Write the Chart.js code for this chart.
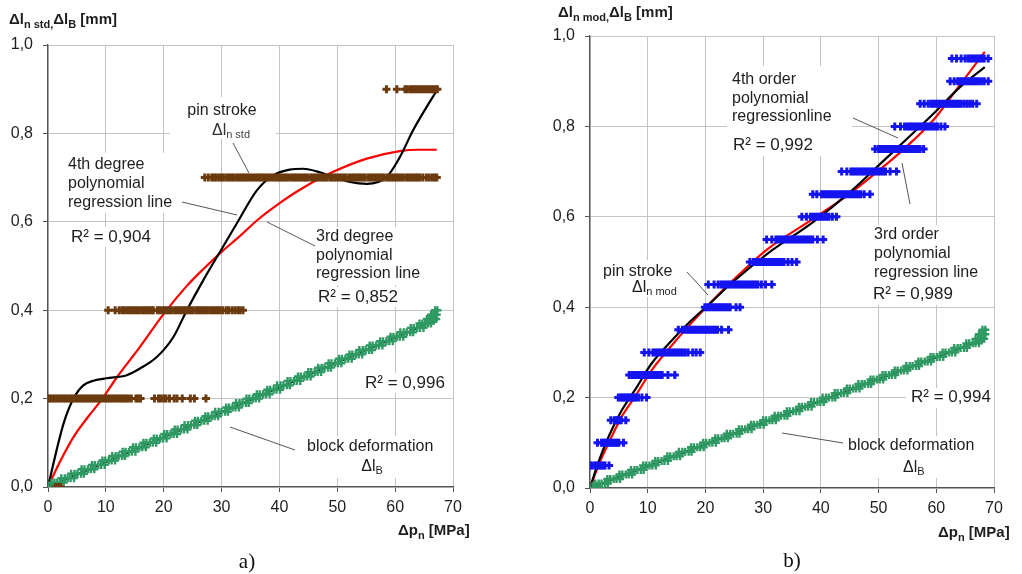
<!DOCTYPE html>
<html>
<head>
<meta charset="utf-8">
<script src="https://cdn.jsdelivr.net/npm/chart.js@4.4.0/dist/chart.umd.min.js"></script>
<style>
  body { margin: 0; background: #fff; }
  #wrap { position: relative; width: 1022px; height: 574px; overflow: hidden; }
  #chartA { position: absolute; left: 0; top: 0; }
  #chartB { position: absolute; left: 510px; top: 0; }
</style>
</head>
<body>
<div id="wrap">
  <canvas id="chartA" width="510" height="574"></canvas>
  <canvas id="chartB" width="512" height="574"></canvas>
</div>
<script>
// ---------- data ----------
// a) standard pin: measured pin stroke levels [mm] and the pressures [MPa] where they show up
const pinALevels = [0.0, 0.2, 0.4, 0.7, 0.9];
const pinAX = [
  [1.3, 1.8, 2.2],
  [0.0, 0.3, 0.7, 1.1, 1.5, 1.9, 2.3, 2.7, 3.1, 3.5, 3.9, 4.3, 4.7, 5.1, 5.5, 5.9, 6.3, 6.7, 7.1, 7.5, 7.9, 8.3, 8.7, 9.1, 9.5, 9.9, 10.3, 10.7, 11.1, 11.5, 11.9, 12.3, 12.7, 13.1, 13.5, 13.9, 14.4, 15.2, 15.6, 16.0, 18.4, 19.1, 19.5, 20.0, 20.4, 21.0, 21.8, 22.3, 23.2, 24.6, 25.3, 27.3],
  [10.4, 11.6, 12.3, 12.8, 13.2, 13.7, 14.1, 14.6, 15.0, 15.4, 15.8, 16.3, 16.7, 17.1, 17.5, 17.9, 18.2, 18.9, 19.3, 19.8, 20.2, 20.6, 21.0, 21.4, 21.9, 22.3, 22.7, 23.1, 23.5, 23.9, 24.3, 24.7, 25.1, 25.6, 26.0, 26.4, 26.8, 27.2, 27.6, 28.1, 28.5, 28.9, 29.3, 29.7, 30.2, 30.8, 31.2, 31.8, 32.3, 32.8, 33.2, 33.7],
  [27.1, 27.7, 28.3, 28.7, 29.1, 29.6, 30.0, 30.4, 30.9, 31.3, 31.7, 32.1, 32.6, 33.0, 33.4, 33.8, 34.2, 34.6, 35.0, 35.5, 35.9, 36.3, 36.7, 37.1, 37.5, 37.9, 38.3, 38.8, 39.2, 39.6, 40.0, 40.4, 40.8, 41.2, 41.6, 42.1, 42.5, 42.9, 43.3, 43.7, 44.1, 44.5, 44.9, 45.4, 45.8, 46.2, 46.6, 47.0, 47.4, 47.8, 48.2, 48.7, 49.1, 49.5, 49.9, 50.3, 50.7, 51.1, 51.5, 52.0, 52.4, 52.8, 53.2, 53.6, 54.0, 54.4, 54.8, 55.3, 55.7, 56.1, 56.5, 56.9, 57.3, 57.7, 58.1, 58.6, 59.0, 59.4, 59.8, 60.2, 60.6, 61.0, 61.4, 61.9, 62.3, 62.7, 63.1, 63.5, 63.9, 64.3, 64.8, 65.4, 65.9, 66.4, 66.8, 67.2],
  [58.5, 60.3, 61.7, 62.1, 62.6, 63.0, 63.4, 63.8, 64.2, 64.6, 65.0, 65.4, 65.8, 66.2, 66.6, 67.0, 67.3]
];

// block deformation a): levels [mm] with their pressures
const blockALevels = [0.00, 0.01, 0.02, 0.03, 0.04, 0.05, 0.06, 0.07, 0.08, 0.09, 0.10, 0.11, 0.12, 0.13, 0.14, 0.15, 0.16, 0.17, 0.18, 0.19, 0.20, 0.21, 0.22, 0.23, 0.24, 0.25, 0.26, 0.27, 0.28, 0.29, 0.30, 0.31, 0.32, 0.33, 0.34, 0.35, 0.36, 0.37, 0.38, 0.39, 0.40];
const blockAX = [
  [0.0, 0.5, 1.0, 1.5, 2.0], [0.6, 1.1, 1.6, 2.1, 2.7], [2.3, 2.9, 3.4, 3.9, 4.5], [4.0, 4.6, 5.1, 5.7, 6.2],
  [5.8, 6.3, 6.9, 7.4, 8.0], [7.6, 8.1, 8.7, 9.2, 9.8], [9.4, 9.9, 10.5, 11.0, 11.6], [11.1, 11.7, 12.2, 12.8, 13.3],
  [12.9, 13.4, 14.0, 14.5, 15.1], [14.7, 15.2, 15.8, 16.3, 16.9], [16.5, 17.0, 17.6, 18.1, 18.7], [18.3, 18.8, 19.4, 19.9, 20.5],
  [20.1, 20.6, 21.2, 21.7, 22.3], [21.9, 22.4, 23.0, 23.5, 24.1], [23.6, 24.2, 24.7, 25.3, 25.8], [25.4, 25.9, 26.5, 27.0, 27.6],
  [27.2, 27.7, 28.3, 28.8, 29.4], [28.9, 29.5, 30.0, 30.6, 31.1], [30.8, 31.3, 31.9, 32.4, 33.0], [32.5, 33.1, 33.6, 34.2, 34.7],
  [34.3, 34.8, 35.4, 35.9, 36.5], [36.1, 36.6, 37.2, 37.7, 38.3], [37.9, 38.4, 39.0, 39.5, 40.1], [39.6, 40.2, 40.7, 41.3, 41.8],
  [41.4, 41.9, 42.5, 43.0, 43.6], [43.2, 43.7, 44.3, 44.8, 45.4], [45.0, 45.5, 46.1, 46.6, 47.2], [46.7, 47.3, 47.8, 48.4, 48.9],
  [48.5, 49.0, 49.6, 50.1, 50.7], [50.3, 50.8, 51.4, 51.9, 52.5], [52.1, 52.6, 53.2, 53.7, 54.3], [53.8, 54.4, 54.9, 55.5, 56.0],
  [55.6, 56.1, 56.7, 57.2, 57.8], [57.4, 57.9, 58.5, 59.0, 59.6], [59.2, 59.7, 60.3, 60.8, 61.4], [60.9, 61.5, 62.0, 62.6, 63.1],
  [62.7, 63.2, 63.8, 64.3, 64.9], [64.2, 64.7, 65.2, 65.7, 66.2], [65.5, 65.9, 66.3, 66.7, 67.1], [66.2, 66.6, 66.9, 67.2],
  [66.9, 67.3]
];

// regression lines a)
const fit4AX = [0, 1.5, 2.7, 4.4, 6.1, 8.0, 10.1, 13.6, 15.9, 18.8, 21.7, 24.0, 26.8, 30.0, 32.8, 36.1, 38.9, 41.8, 44.1, 47.0, 49.3, 52.0, 55.1, 58.5, 60.8, 63.1, 65.4, 67.2];
const fit4AY = [0, 0.084, 0.144, 0.200, 0.230, 0.241, 0.246, 0.253, 0.268, 0.294, 0.340, 0.400, 0.467, 0.538, 0.600, 0.671, 0.705, 0.718, 0.720, 0.712, 0.701, 0.691, 0.686, 0.701, 0.746, 0.807, 0.859, 0.897];
const fit3AX = [0, 2.1, 4.4, 7.0, 9.4, 12.0, 15.9, 19.9, 24.0, 27.0, 30.0, 33.2, 36.1, 39.8, 43.6, 49.3, 55.1, 60.8, 64.0, 67.2];
const fit3AY = [0, 0.058, 0.113, 0.160, 0.200, 0.250, 0.317, 0.390, 0.455, 0.495, 0.532, 0.568, 0.603, 0.640, 0.673, 0.713, 0.743, 0.760, 0.763, 0.763];
const fitBlockAX = [0, 67.3];
const fitBlockAY = [0, 0.379];

// b) modified pin
const pinBLevels = [0.05, 0.10, 0.15, 0.20, 0.25, 0.30, 0.35, 0.40, 0.45, 0.50, 0.55, 0.60, 0.65, 0.70, 0.75, 0.80, 0.85, 0.90, 0.95];
const pinBX = [
  [0.0, 0.3, 0.8, 1.1, 1.4, 1.7, 2.0, 2.3, 2.6, 3.3],
  [1.3, 2.0, 2.3, 2.6, 2.9, 3.2, 3.5, 3.8, 4.1, 4.4, 4.7, 5.0, 5.8],
  [3.6, 4.2, 4.5, 4.8, 5.1, 5.4, 6.2],
  [4.9, 5.3, 5.6, 5.9, 6.2, 6.5, 6.8, 7.1, 7.4, 7.7, 8.0, 8.4, 9.0, 9.8],
  [6.8, 7.3, 7.7, 8.1, 8.5, 8.9, 9.3, 9.7, 10.1, 10.5, 10.9, 11.3, 11.7, 12.1, 12.5, 13.5, 14.7],
  [9.4, 10.2, 10.9, 11.3, 11.7, 12.1, 12.5, 12.9, 13.3, 13.7, 14.1, 14.5, 14.9, 15.3, 15.7, 16.1, 16.5, 17.0, 17.8, 18.4, 19.1],
  [15.3, 16.0, 16.5, 16.9, 17.3, 17.7, 18.1, 18.5, 18.9, 19.3, 19.7, 20.1, 20.5, 20.9, 21.3, 21.7, 22.1, 22.8, 24.0],
  [19.9, 20.3, 20.7, 21.1, 21.5, 21.9, 22.3, 22.7, 23.1, 23.5, 23.9, 24.3, 25.3, 26.0],
  [20.5, 21.5, 22.2, 22.7, 23.1, 23.5, 23.9, 24.3, 24.7, 25.1, 25.5, 25.9, 26.3, 26.7, 27.1, 27.5, 27.9, 28.3, 28.7, 29.1, 29.7, 30.4, 31.5],
  [27.7, 28.3, 28.8, 29.2, 29.6, 30.0, 30.4, 30.8, 31.2, 31.6, 32.0, 32.4, 32.8, 33.2, 33.6, 34.3, 35.0, 35.8],
  [30.6, 31.5, 32.2, 32.6, 33.0, 33.4, 33.8, 34.2, 34.6, 35.0, 35.4, 35.8, 36.2, 36.6, 37.0, 37.4, 37.8, 38.2, 38.6, 39.4, 40.4],
  [36.7, 37.5, 38.2, 38.6, 39.0, 39.4, 39.8, 40.2, 40.6, 41.0, 41.4, 42.0, 42.7],
  [38.6, 39.3, 40.1, 40.5, 40.9, 41.3, 41.7, 42.1, 42.5, 42.9, 43.3, 43.7, 44.1, 44.5, 44.9, 45.3, 45.7, 46.1, 46.5, 46.9, 47.5, 48.5],
  [43.6, 44.5, 45.2, 45.6, 46.0, 46.4, 46.8, 47.2, 47.6, 48.0, 48.4, 48.8, 49.2, 49.6, 50.0, 50.4, 50.8, 51.2, 52.0, 53.1],
  [49.4, 50.0, 50.4, 50.8, 51.2, 51.6, 52.0, 52.4, 52.8, 53.2, 53.6, 54.0, 54.4, 54.8, 55.2, 55.6, 56.0, 56.4, 56.8, 57.2, 57.8],
  [52.8, 53.8, 54.5, 55.0, 55.4, 55.8, 56.2, 56.6, 57.0, 57.4, 57.8, 58.2, 58.6, 59.0, 59.4, 59.8, 60.2, 60.8, 61.5],
  [57.2, 57.9, 58.6, 59.1, 59.5, 59.9, 60.3, 60.7, 61.1, 61.5, 61.9, 62.3, 62.7, 63.1, 63.5, 63.9, 64.3, 64.8, 65.3, 65.8, 66.3, 67.0],
  [62.4, 63.1, 63.7, 64.1, 64.5, 64.9, 65.3, 65.7, 66.1, 66.5, 66.9, 67.3, 67.8, 68.3, 69.0],
  [62.7, 63.5, 64.3, 65.0, 65.5, 65.9, 66.3, 66.7, 67.1, 67.5, 67.9, 68.3, 69.0]
];

const blockBLevels = [0.00, 0.01, 0.02, 0.03, 0.04, 0.05, 0.06, 0.07, 0.08, 0.09, 0.10, 0.11, 0.12, 0.13, 0.14, 0.15, 0.16, 0.17, 0.18, 0.19, 0.20, 0.21, 0.22, 0.23, 0.24, 0.25, 0.26, 0.27, 0.28, 0.29, 0.30, 0.31, 0.32, 0.33, 0.34, 0.35];
const blockBX = [
  [0.0, 0.5, 1.0, 1.5, 2.0], [0.9, 1.5, 2.0, 2.6, 3.1], [3.0, 3.5, 4.1, 4.6, 5.2], [5.1, 5.6, 6.2, 6.7, 7.3],
  [7.1, 7.7, 8.2, 8.8, 9.3], [9.2, 9.7, 10.3, 10.8, 11.4], [11.3, 11.8, 12.4, 12.9, 13.5], [13.4, 13.9, 14.5, 15.0, 15.6],
  [15.4, 16.0, 16.5, 17.1, 17.6], [17.5, 18.0, 18.6, 19.1, 19.7], [19.6, 20.1, 20.7, 21.2, 21.8], [21.7, 22.2, 22.8, 23.3, 23.9],
  [23.7, 24.3, 24.8, 25.4, 25.9], [25.8, 26.3, 26.9, 27.4, 28.0], [27.9, 28.4, 29.0, 29.5, 30.1], [30.0, 30.5, 31.1, 31.6, 32.2],
  [32.0, 32.6, 33.1, 33.7, 34.2], [34.1, 34.6, 35.2, 35.7, 36.3], [36.2, 36.7, 37.3, 37.8, 38.4], [38.3, 38.8, 39.4, 39.9, 40.5],
  [40.3, 40.9, 41.4, 42.0, 42.5], [42.4, 42.9, 43.5, 44.0, 44.6], [44.5, 45.0, 45.6, 46.1, 46.7], [46.5, 47.1, 47.6, 48.2, 48.7],
  [48.6, 49.1, 49.7, 50.2, 50.8], [50.7, 51.2, 51.8, 52.3, 52.9], [52.8, 53.3, 53.9, 54.4, 55.0], [54.8, 55.4, 55.9, 56.5, 57.0],
  [56.9, 57.4, 58.0, 58.5, 59.1], [59.0, 59.5, 60.1, 60.6, 61.2], [61.1, 61.6, 62.2, 62.7, 63.3], [63.1, 63.7, 64.2, 64.8, 65.3],
  [65.2, 65.7, 66.3, 66.8, 67.4], [66.8, 67.2, 67.6, 68.0, 68.3], [67.4, 67.8, 68.1, 68.5], [68.0, 68.5]
];

const fit4BX = [0, 1.4, 3.2, 5.5, 7.8, 10.7, 14.2, 17.0, 20.5, 24.5, 30.6, 38.7, 45.1, 49.7, 53.7, 59.5, 64.1, 68.4];
const fit4BY = [0, 0.055, 0.113, 0.172, 0.217, 0.276, 0.327, 0.364, 0.405, 0.453, 0.517, 0.589, 0.655, 0.710, 0.758, 0.828, 0.887, 0.931];
const fit3BX = [0, 1.4, 3.2, 5.5, 7.8, 10.7, 14.2, 17.0, 20.5, 24.5, 30.6, 38.7, 45.1, 49.7, 53.7, 59.5, 64.1, 68.4];
const fit3BY = [0, 0.048, 0.099, 0.158, 0.202, 0.261, 0.316, 0.357, 0.405, 0.456, 0.527, 0.596, 0.652, 0.699, 0.742, 0.814, 0.892, 0.965];
const fitBlockBX = [0, 68.3];
const fitBlockBY = [0, 0.329];

// ---------- helpers ----------
const BROWN = '#6b3a0f';
const BLUE = '#1414f0';
const GREEN = '#2f9a63';
const TXT = '#1e1e1e';
const FONT = '"Liberation Sans", Arial, sans-serif';

const levelPoints = (levels, xs) => {
    const pts = [];
    xs.forEach((row, i) => {
        row.forEach((x) => pts.push({x: x, y: levels[i]}));
    });
    return pts;
};

const linePoints = (xs, ys) => xs.map((x, i) => ({x: x, y: ys[i]}));

// draws a line of text made of pieces, some of them subscript
const drawRich = (ctx, segs, x, y, align) => {
    let w = 0;
    segs.forEach((s) => {
        ctx.font = (s.b ? 'bold ' : '') + s.size + 'px ' + FONT;
        s.w = ctx.measureText(s.t).width;
        w += s.w;
    });
    let cx = align === 'center' ? x - w / 2 : x;
    ctx.textAlign = 'left';
    ctx.textBaseline = 'alphabetic';
    segs.forEach((s) => {
        ctx.font = (s.b ? 'bold ' : '') + s.size + 'px ' + FONT;
        ctx.fillStyle = s.c || TXT;
        ctx.fillText(s.t, cx, y + (s.dy || 0));
        cx += s.w;
    });
};

const notesPlugin = (notes) => ({
    id: 'notes',
    beforeDatasetsDraw(chart) {
        const ctx = chart.ctx;
        ctx.save();
        ctx.fillStyle = '#fff';
        notes.boxes.forEach((b) => ctx.fillRect(b[0], b[1], b[2], b[3]));
        ctx.restore();
    },
    afterDatasetsDraw(chart) {
        const ctx = chart.ctx;
        ctx.save();
        ctx.strokeStyle = '#555';
        ctx.lineWidth = 1;
        notes.leaders.forEach((l) => {
            ctx.beginPath();
            ctx.moveTo(l[0], l[1]);
            ctx.lineTo(l[2], l[3]);
            ctx.stroke();
        });
        notes.texts.forEach((t) => drawRich(ctx, t.segs, t.x, t.y, t.align));
        ctx.restore();
    }
});

const plain = (t, size) => [{t: t, size: size || 16}];

const buildChart = (canvasId, cfg) => {
    const el = document.getElementById(canvasId);
    return new Chart(el, {
        type: 'scatter',
        data: {
            datasets: [
                {
                    data: cfg.pins,
                    pointStyle: 'cross',
                    pointRadius: 4,
                    borderWidth: 3,
                    borderColor: cfg.pinColor,
                    backgroundColor: cfg.pinColor
                },
                {
                    data: cfg.block,
                    pointStyle: 'cross',
                    pointRadius: 4,
                    borderWidth: 2.4,
                    borderColor: GREEN,
                    backgroundColor: GREEN
                },
                {
                    data: cfg.fitBlock,
                    showLine: true,
                    pointRadius: 0,
                    borderColor: '#000',
                    borderWidth: 2.2
                },
                {
                    data: cfg.fit4,
                    showLine: true,
                    pointRadius: 0,
                    borderColor: '#000',
                    borderWidth: 2.2,
                    cubicInterpolationMode: 'monotone'
                },
                {
                    data: cfg.fit3,
                    showLine: true,
                    pointRadius: 0,
                    borderColor: '#ff0000',
                    borderWidth: 2.2,
                    cubicInterpolationMode: 'monotone'
                }
            ]
        },
        options: {
            responsive: false,
            animation: false,
            devicePixelRatio: 1,
            events: [],
            layout: {padding: cfg.padding},
            plugins: {legend: {display: false}, tooltip: {enabled: false}},
            scales: {
                x: {
                    type: 'linear',
                    min: 0,
                    max: 70,
                    afterFit: (scale) => { scale.height = cfg.xHeight; },
                    grid: {color: '#c4c4c4', tickColor: '#555', tickLength: 5},
                    border: {color: '#555', width: 1.3},
                    ticks: {
                        stepSize: 10,
                        maxRotation: 0,
                        padding: 6,
                        color: TXT,
                        font: {family: FONT, size: 16}
                    }
                },
                y: {
                    type: 'linear',
                    min: 0,
                    max: 1,
                    afterFit: (scale) => { scale.width = cfg.yWidth; },
                    grid: {color: '#c4c4c4', tickColor: '#555', tickLength: 5},
                    border: {color: '#555', width: 1.3},
                    ticks: {
                        stepSize: 0.2,
                        padding: 10,
                        color: TXT,
                        font: {family: FONT, size: 16},
                        callback: (v) => v.toFixed(1).replace('.', ',')
                    }
                }
            }
        },
        plugins: [notesPlugin(cfg.notes), {
            id: 'titles',
            afterDraw(chart) {
                const ctx = chart.ctx;
                ctx.save();
                cfg.titles.forEach((t) => drawRich(ctx, t.segs, t.x, t.y, t.align));
                ctx.font = '21px "Liberation Serif", "Times New Roman", serif';
                ctx.fillStyle = '#111';
                ctx.textAlign = 'center';
                ctx.textBaseline = 'alphabetic';
                ctx.fillText(cfg.letter[0], cfg.letter[1], cfg.letter[2]);
                ctx.restore();
            }
        }]
    });
};

// ---------- chart a) ----------
buildChart('chartA', {
    pins: levelPoints(pinALevels, pinAX),
    pinColor: BROWN,
    block: levelPoints(blockALevels, blockAX),
    fitBlock: linePoints(fitBlockAX, fitBlockAY),
    fit4: linePoints(fit4AX, fit4AY),
    fit3: linePoints(fit3AX, fit3AY),
    padding: {top: 45, right: 57, left: 0, bottom: 0},
    xHeight: 87,
    yWidth: 48,
    letter: ['a)', 247, 568],
    titles: [
        {x: 9, y: 24, segs: [
            {t: 'Δl', size: 15, b: true}, {t: 'n std,', size: 11, b: true, dy: 4},
            {t: 'Δl', size: 15, b: true}, {t: 'B', size: 11, b: true, dy: 4},
            {t: ' [mm]', size: 15, b: true}]},
        {x: 398, y: 535, segs: [
            {t: 'Δp', size: 15, b: true}, {t: 'n', size: 11, b: true, dy: 4},
            {t: ' [MPa]', size: 15, b: true}]}
    ],
    notes: {
        boxes: [
            [170, 97, 106, 42], [62, 153, 118, 60], [66, 227, 90, 20],
            [311, 227, 120, 58], [313, 287, 90, 20], [360, 373, 88, 20], [302, 436, 140, 42]
        ],
        leaders: [
            [233, 143, 249, 173], [182, 202, 237, 215], [267, 222, 315, 246], [230, 427, 295, 450]
        ],
        texts: [
            {x: 222, y: 115, align: 'center', segs: plain('pin stroke')},
            {x: 231, y: 135, align: 'center', segs: [{t: 'Δl', size: 16, c: '#333'}, {t: 'n std', size: 11, dy: 3, c: '#444'}]},
            {x: 68, y: 169, segs: plain('4th degree')},
            {x: 68, y: 188, segs: plain('polynomial')},
            {x: 68, y: 207, segs: plain('regression line')},
            {x: 71, y: 242, segs: plain('R² = 0,904', 17)},
            {x: 316, y: 241, segs: plain('3rd degree')},
            {x: 316, y: 260, segs: plain('polynomial')},
            {x: 316, y: 278, segs: plain('regression line')},
            {x: 318, y: 302, segs: plain('R² = 0,852', 17)},
            {x: 365, y: 388, segs: plain('R² = 0,996', 17)},
            {x: 307, y: 451, segs: plain('block deformation')},
            {x: 372, y: 471, align: 'center', segs: [{t: 'Δl', size: 16}, {t: 'B', size: 11, dy: 3}]}
        ]
    }
});

// ---------- chart b) ----------
// positions in this canvas are 510 px left of the page
const o = 510;
buildChart('chartB', {
    pins: levelPoints(pinBLevels, pinBX),
    pinColor: BLUE,
    block: levelPoints(blockBLevels, blockBX),
    fitBlock: linePoints(fitBlockBX, fitBlockBY),
    fit4: linePoints(fit4BX, fit4BY),
    fit3: linePoints(fit3BX, fit3BY),
    padding: {top: 36, right: 28, left: 0, bottom: 0},
    xHeight: 86,
    yWidth: 80,
    letter: ['b)', 792 - o, 567],
    titles: [
        {x: 558 - o, y: 17, segs: [
            {t: 'Δl', size: 15, b: true}, {t: 'n mod,', size: 11, b: true, dy: 4},
            {t: 'Δl', size: 15, b: true}, {t: 'B', size: 11, b: true, dy: 4},
            {t: ' [mm]', size: 15, b: true}]},
        {x: 938 - o, y: 537, segs: [
            {t: 'Δp', size: 15, b: true}, {t: 'n', size: 11, b: true, dy: 4},
            {t: ' [MPa]', size: 15, b: true}]}
    ],
    notes: {
        boxes: [
            [727 - o, 66, 125, 90], [869 - o, 225, 122, 80], [598 - o, 260, 84, 37],
            [906 - o, 388, 88, 20], [843 - o, 436, 140, 42]
        ],
        leaders: [
            [853 - o, 118, 898 - o, 138], [902 - o, 163, 910 - o, 204],
            [687 - o, 272, 708 - o, 295], [782 - o, 433, 843 - o, 443]
        ],
        texts: [
            {x: 732 - o, y: 84, segs: plain('4th order')},
            {x: 732 - o, y: 103, segs: plain('polynomial')},
            {x: 732 - o, y: 121, segs: plain('regressionline')},
            {x: 733 - o, y: 150, segs: plain('R² = 0,992', 17)},
            {x: 874 - o, y: 239, segs: plain('3rd order')},
            {x: 874 - o, y: 258, segs: plain('polynomial')},
            {x: 874 - o, y: 277, segs: plain('regression line')},
            {x: 873 - o, y: 299, segs: plain('R² = 0,989', 17)},
            {x: 603 - o, y: 276, segs: plain('pin stroke')},
            {x: 632 - o, y: 292, segs: [{t: 'Δl', size: 16}, {t: 'n mod', size: 11, dy: 3}]},
            {x: 911 - o, y: 402, segs: plain('R² = 0,994', 17)},
            {x: 848 - o, y: 450, segs: plain('block deformation')},
            {x: 903 - o, y: 472, segs: [{t: 'Δl', size: 16}, {t: 'B', size: 11, dy: 3}]}
        ]
    }
});
</script>
</body>
</html>
